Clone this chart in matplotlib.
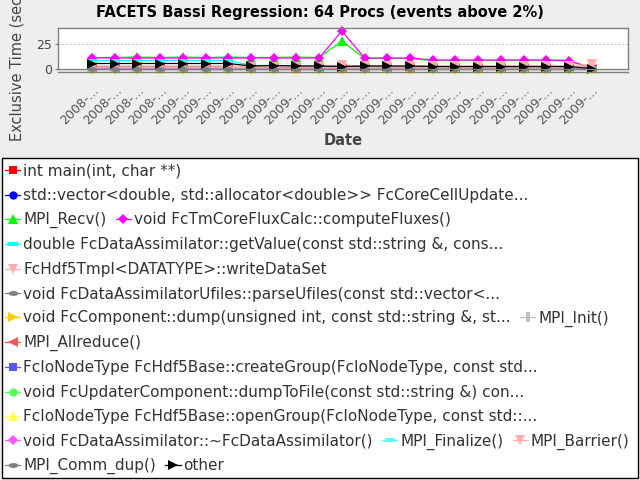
import matplotlib
matplotlib.use("Agg")
import matplotlib.pyplot as plt
from matplotlib.path import Path
from matplotlib.transforms import Affine2D
from matplotlib.patches import Rectangle

# ---------------- data ----------------
dates = ["2008-..."] * 4 + ["2009-..."] * 19

series_names = [
    "int main(int, char **)",
    "std::vector<double, std::allocator<double>> FcCoreCellUpdate...",
    "MPI_Recv()",
    "void FcTmCoreFluxCalc::computeFluxes()",
    "double FcDataAssimilator::getValue(const std::string &, cons...",
    "FcHdf5Tmpl<DATATYPE>::writeDataSet",
    "void FcDataAssimilatorUfiles::parseUfiles(const std::vector<...",
    "void FcComponent::dump(unsigned int, const std::string &, st...",
    "MPI_Init()",
    "MPI_Allreduce()",
    "FcIoNodeType FcHdf5Base::createGroup(FcIoNodeType, const std...",
    "void FcUpdaterComponent::dumpToFile(const std::string &) con...",
    "FcIoNodeType FcHdf5Base::openGroup(FcIoNodeType, const std::...",
    "void FcDataAssimilator::~FcDataAssimilator()",
    "MPI_Finalize()",
    "MPI_Barrier()",
    "MPI_Comm_dup()",
    "other",
]

main_vals      = [1.0, 1.0, 1.0, 1.5, 1.5, 1.5, 1.5, 0.5, 0.5, 0.5, 0.5, 0.5, 0.5, 0.5, 0.5, 0.4, 0.4, 0.4, 0.4, 0.4, 0.4, 0.4, 0.1]
vector_vals    = [1.0, 1.0, 1.0, 1.0, 1.0, 1.0, 1.0, 1.0, 1.0, 2.0, 2.0, 2.5, 2.5, 2.0, 2.0, 1.5, 1.5, 1.5, 1.5, 1.5, 1.5, 1.5, 0.2]
recv_vals      = [11.5, 11.5, 12.0, 11.5, 12.0, 11.5, 12.0, 11.5, 11.5, 12.0, 11.5, 28.0, 10.5, 10.5, 10.5, 8.5, 8.5, 8.5, 8.5, 8.5, 8.5, 8.0, 0.5]
fluxes_vals    = [11.0, 11.0, 11.0, 11.0, 11.0, 11.0, 11.0, 11.0, 11.0, 11.0, 11.0, 38.0, 11.0, 11.0, 11.0, 9.0, 9.0, 9.0, 9.0, 9.0, 9.0, 8.5, 1.0]
getvalue_vals  = [8.5, 8.5, 8.5, 8.5, 8.5, 8.5, 8.5, 3.5, 3.5, 3.0, 3.0, 2.0, 2.0, 2.0, 2.0, 1.5, 1.5, 1.5, 1.5, 1.5, 1.5, 1.5, 0.0]
writeds_vals   = [3.0, 3.0, 3.0, 3.0, 3.0, 3.0, 3.0, 2.5, 2.5, 2.5, 2.5, 4.0, 3.0, 3.0, 3.0, 3.0, 3.0, 3.0, 3.0, 3.0, 3.0, 3.0, 5.0]
parse_vals     = [2.0, 2.0, 2.0, 2.0, 2.0, 2.0, 2.0, 0.5, 0.5, 0.5, 0.5, 0.5, 0.5, 0.5, 0.5, 0.5, 0.5, 0.5, 0.5, 0.5, 0.5, 0.5, 0.0]
dump_vals      = [0.8, 0.8, 0.8, 0.8, 0.8, 0.8, 0.8, 0.8, 0.8, 0.8, 0.8, 0.8, 0.8, 0.8, 0.8, 0.7, 0.7, 0.7, 0.7, 0.7, 0.7, 0.7, 0.1]
init_vals      = [0.5, 0.5, 0.5, 0.5, 0.5, 0.5, 0.5, 0.5, 0.5, 0.5, 0.5, 0.5, 0.5, 0.5, 0.5, 0.5, 0.5, 0.5, 0.5, 0.5, 0.5, 0.5, 0.5]
allreduce_vals = [0.7, 0.7, 0.7, 0.7, 0.7, 0.7, 0.7, 0.6, 0.6, 0.6, 0.6, 0.6, 0.6, 0.6, 0.6, 0.6, 0.6, 0.6, 0.6, 0.6, 0.6, 0.6, 0.1]
create_vals    = [0.5, 0.5, 0.5, 0.5, 0.5, 0.5, 0.5, 0.4, 0.4, 0.4, 0.4, 0.4, 0.4, 0.4, 0.4, 0.4, 0.4, 0.4, 0.4, 0.4, 0.4, 0.4, 0.1]
dumpfile_vals  = [0.5, 0.5, 0.5, 0.5, 0.5, 0.5, 0.5, 0.4, 0.4, 0.4, 0.4, 0.4, 0.4, 0.4, 0.4, 0.4, 0.4, 0.4, 0.4, 0.4, 0.4, 0.4, 0.1]
open_vals      = [0.4, 0.4, 0.4, 0.4, 0.4, 0.4, 0.4, 0.3, 0.3, 0.3, 0.3, 0.3, 0.3, 0.3, 0.3, 0.3, 0.3, 0.3, 0.3, 0.3, 0.3, 0.3, 0.1]
dtor_vals      = [0.4, 0.4, 0.4, 0.4, 0.4, 0.4, 0.4, 0.3, 0.3, 0.3, 0.3, 0.3, 0.3, 0.3, 0.3, 0.3, 0.3, 0.3, 0.3, 0.3, 0.3, 0.3, 0.0]
finalize_vals  = [0.3, 0.3, 0.3, 0.3, 0.3, 0.3, 0.3, 0.3, 0.3, 0.3, 0.3, 0.3, 0.3, 0.3, 0.3, 0.3, 0.3, 0.3, 0.3, 0.3, 0.3, 0.3, 0.3]
barrier_vals   = [1.5, 1.5, 1.5, 1.5, 1.5, 1.5, 1.5, 1.0, 1.0, 1.0, 1.0, 1.5, 1.0, 1.0, 1.0, 1.0, 1.0, 1.0, 1.0, 1.0, 1.0, 1.0, 4.0]
commdup_vals   = [0.3, 0.3, 0.3, 0.3, 0.3, 0.3, 0.3, 0.3, 0.3, 0.3, 0.3, 0.3, 0.3, 0.3, 0.3, 0.3, 0.3, 0.3, 0.3, 0.3, 0.3, 0.3, 0.3]
other_vals     = [5.5, 5.5, 5.5, 5.5, 5.5, 5.5, 5.5, 3.0, 3.5, 3.0, 3.0, 2.5, 3.0, 3.0, 3.0, 2.5, 2.5, 2.5, 2.5, 2.5, 2.5, 2.5, 0.3]

values = [main_vals, vector_vals, recv_vals, fluxes_vals, getvalue_vals, writeds_vals,
          parse_vals, dump_vals, init_vals, allreduce_vals, create_vals, dumpfile_vals,
          open_vals, dtor_vals, finalize_vals, barrier_vals, commdup_vals, other_vals]

# ---------------- styles ----------------
colors = ["#FF0000", "#0000FF", "#00FF00", "#FF00FF", "#00FFFF", "#FFAFAF",
          "#808080", "#FFC800", "#C0C0C0", "#FF5555", "#5555FF", "#55FF55",
          "#FFFF55", "#FF55FF", "#55FFFF", "#FFAFAF", "#808080", "#000000"]

hrect = [(-1, -0.5), (1, -0.5), (1, 0.5), (-1, 0.5), (-1, -0.5)]
vrect = [(-0.5, -1), (0.5, -1), (0.5, 1), (-0.5, 1), (-0.5, -1)]
hell = Path.unit_circle().transformed(Affine2D().scale(1, 0.5))
shape_cycle = ["s", "o", "^", "D", hrect, "v", hell, ">", vrect, "<"]
sizes = {"s": 5.5, "o": 6, "^": 7, "D": 5, "v": 7, ">": 7, "<": 7}

legend_rows = [[0], [1], [2, 3], [4], [5], [6], [7, 8], [9], [10], [11], [12], [13, 14, 15], [16, 17]]

# ---------------- figure ----------------
fig = plt.figure(figsize=(6.4, 4.8), dpi=100, facecolor="#EEEEEE")
ax = fig.add_axes([58 / 640, 1 - 69 / 480, 570 / 640, 41 / 480])
ax.set_facecolor("white")

x = list(range(len(dates)))
handles = []
for i, (name, vals) in enumerate(zip(series_names, values)):
    m = shape_cycle[i % len(shape_cycle)]
    ms = sizes.get(m, 7) if isinstance(m, str) else 7
    h, = ax.plot(x, vals, color=colors[i], lw=0.9, marker=m, markersize=ms,
                 markeredgewidth=0, label=name, zorder=2 + i * 0.01, clip_on=False)
    handles.append(h)

ax.set_xlim(-1.5, 23.6)
ax.set_ylim(0, 41)
ax.set_yticks([0, 25])
ax.yaxis.grid(True, color="#C0C0C0", linestyle=(0, (2, 2)), linewidth=0.7)
ax.set_axisbelow(True)

for s in ax.spines.values():
    s.set_color("#808080")
    s.set_linewidth(1.0)
ax.spines["bottom"].set_position(("outward", 2.5))
ax.plot([0, 1], [0, 0], transform=ax.transAxes, color="#808080", lw=1.0, clip_on=False, zorder=5)

ax.set_xticks(x)
ax.set_xticklabels(dates, rotation=45, ha="right", va="top", rotation_mode="anchor",
                   fontsize=9, color="#555555")
ax.tick_params(axis="x", length=0, pad=8)
ax.tick_params(axis="y", length=2, color="#808080", labelsize=9, labelcolor="#444444", pad=2)

ax.set_ylabel("Exclusive Time (seconds)", fontsize=10.5, color="#444444")
ax.yaxis.set_label_coords(-0.058, 0.5)
ax.set_xlabel("Date", fontsize=10.5, fontweight="bold", color="#444444")
ax.xaxis.set_label_coords(0.5, -1.55)

fig.text(0.5, 1 - 12 / 480, "FACETS Bassi Regression: 64 Procs (events above 2%)",
         ha="center", va="center", fontsize=10.5, fontweight="bold", color="black")

# legend box
fig.patches.append(Rectangle((2 / 640, 2 / 480), 636 / 640, 320 / 480, transform=fig.transFigure,
                             facecolor="white", edgecolor="black", lw=1.0, zorder=0))
row_y0 = 171
row_dy = 24.6
for r, row in enumerate(legend_rows):
    yc = row_y0 + r * row_dy
    leg = fig.legend(handles=[handles[k] for k in row], loc="center left",
                     bbox_to_anchor=(5 / 640, 1 - yc / 480), ncol=len(row), frameon=False,
                     fontsize=11, handlelength=1.0, handletextpad=0.2, columnspacing=0.6,
                     borderpad=0, borderaxespad=0, numpoints=1)
    for t in leg.get_texts():
        t.set_color("#333333")

fig.savefig("out.png", dpi=100, facecolor=fig.get_facecolor())
